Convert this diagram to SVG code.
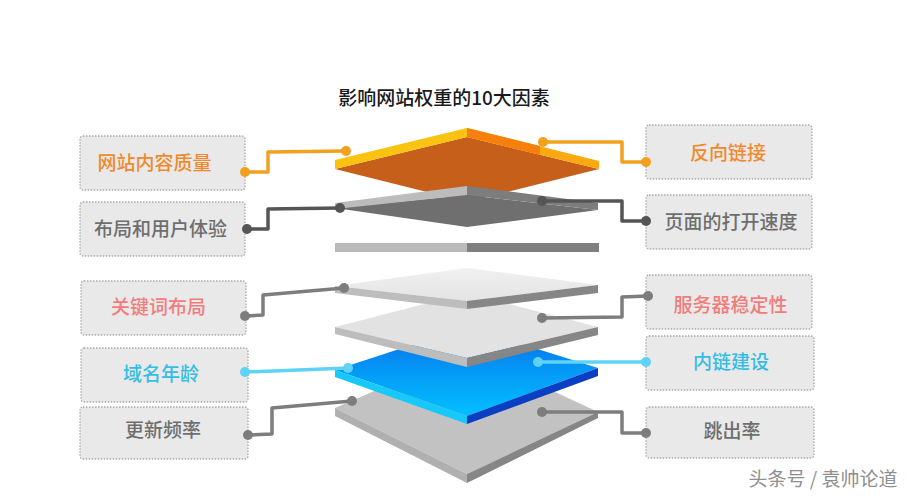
<svg xmlns="http://www.w3.org/2000/svg" width="909" height="497" viewBox="0 0 909 497">
<defs>
<linearGradient id="blue" x1="0" y1="0" x2="0" y2="1"><stop offset="0" stop-color="#0468e8"/><stop offset="0.45" stop-color="#0595f5"/><stop offset="1" stop-color="#02c0ff"/></linearGradient>
<linearGradient id="light" x1="0" y1="0" x2="0" y2="1"><stop offset="0" stop-color="#f0f0f0"/><stop offset="1" stop-color="#e4e4e4"/></linearGradient>
</defs>
<style>
text{font-family:"Noto Sans CJK SC","Liberation Sans",sans-serif}
.box{fill:#e9e9e9;stroke:#a9a9a9;stroke-width:1.3;stroke-dasharray:1.5 1.5}
.lbl{font-size:19px;font-weight:500;text-anchor:middle}
.c{fill:none;stroke-width:3.5;stroke-linejoin:round}
</style>
<rect width="909" height="497" fill="#fff"/>
<text x="444" y="105" font-size="19" font-weight="500" text-anchor="middle" fill="#1a1a1a">影响网站权重的10大因素</text>
<g id="layer-bottom">
<polygon points="335,408 467,351 598,412 467,474" fill="#c2c2c2"/>
<polygon points="335,408 467,474 467,483 335,416" fill="#b0b0b0"/>
<polygon points="598,412 467,474 467,483 598,418" fill="#868686"/>
</g>
<g id="layer-blue">
<polygon points="335,370 467,327 598,368 467,416" fill="url(#blue)"/>
<polygon points="335,370 467,416 467,424 335,377" fill="#17c8fb"/>
<polygon points="598,368 467,416 467,424 598,376" fill="#0a3fc4"/>
</g>
<g id="layer-5">
<polygon points="335,327 467,293 598,327 467,358" fill="#e2e2e2"/>
<polygon points="335,327 467,358 467,367 335,334" fill="#bdbdbd"/>
<polygon points="598,327 467,358 467,367 598,335" fill="#868686"/>
</g>
<g id="layer-4">
<polygon points="335,286 467,268 598,285 467,301" fill="url(#light)"/>
<polygon points="335,286 467,301 467,309 335,293" fill="#bdbdbd"/>
<polygon points="598,285 467,301 467,309 598,293" fill="#868686"/>
</g>
<g id="layer-bar">
<rect x="335" y="243" width="132" height="9" fill="#bababa"/>
<rect x="467" y="243" width="132" height="9" fill="#7f7f7f"/>
</g>
<g id="layer-top">
<polygon points="335,169 467,137 599,169 467,202" fill="#c55f1a"/>
<polygon points="335,160 467,128 467,137 335,169" fill="#fac311"/>
<polygon points="467,128 599,161 599,169 467,137" fill="#fba910"/>
<polygon points="467,128 540,146 540,155 467,137" fill="#f77f0c"/>
</g>
<g id="layer-2">
<polygon points="335,208 467,195 598,210 467,227" fill="#6f6f6f"/>
<polygon points="335,203 467,186 467,195 335,209" fill="#bcbcbc"/>
<polygon points="467,186 598,203 598,210 467,195" fill="#7d7d7d"/>
</g>
<g id="node-content"><rect class="box" x="80" y="136" width="165" height="54" rx="3"/><text class="lbl" x="154.5" y="170" fill="#f08a2c">网站内容质量</text></g>
<g id="node-layout"><rect class="box" x="80" y="202" width="165" height="54" rx="3"/><text class="lbl" x="160.5" y="236" fill="#6e6e6e">布局和用户体验</text></g>
<g id="node-keyword"><rect class="box" x="81" y="281" width="165" height="54" rx="3"/><text class="lbl" x="158.5" y="314" fill="#f27c7c">关键词布局</text></g>
<g id="node-domain"><rect class="box" x="81" y="348" width="167" height="54" rx="3"/><text class="lbl" x="161" y="381" fill="#35bde6">域名年龄</text></g>
<g id="node-update"><rect class="box" x="80" y="407" width="168" height="52" rx="3"/><text class="lbl" x="163" y="437" fill="#6e6e6e">更新频率</text></g>
<g id="node-backlink"><rect class="box" x="646" y="125" width="166" height="54" rx="3"/><text class="lbl" x="728" y="160" fill="#f08a2c">反向链接</text></g>
<g id="node-speed"><rect class="box" x="646" y="195" width="166" height="54" rx="3"/><text class="lbl" x="731" y="229" fill="#6e6e6e">页面的打开速度</text></g>
<g id="node-server"><rect class="box" x="646" y="275" width="166" height="54" rx="3"/><text class="lbl" x="730.5" y="312" fill="#f27c7c">服务器稳定性</text></g>
<g id="node-internal"><rect class="box" x="646" y="336" width="168" height="54" rx="3"/><text class="lbl" x="731" y="369" fill="#35bde6">内链建设</text></g>
<g id="node-bounce"><rect class="box" x="646" y="407" width="168" height="51" rx="3"/><text class="lbl" x="732" y="438" fill="#6e6e6e">跳出率</text></g>
<g id="connectors">
<polyline class="c" stroke="#f3a01f" points="245,172 268,172 268,152 346,151"/>
<polyline class="c" stroke="#f3a01f" points="543,142 622,142 622,162 646,162"/>
<polyline class="c" stroke="#555" points="247,229 268,229 268,209 340,208"/>
<polyline class="c" stroke="#555" points="542,201 622,201 622,221 646,221"/>
<polyline class="c" stroke="#7d7d7d" points="344,288 263,295 263,315 245,316"/>
<polyline class="c" stroke="#7d7d7d" points="542,318 622,317 622,297 648,296"/>
<polyline class="c" stroke="#5fd3f5" points="245,372 348,368"/>
<polyline class="c" stroke="#5fd3f5" points="538,362 646,362"/>
<polyline class="c" stroke="#7d7d7d" points="352,401 272,408 272,434 248,435"/>
<polyline class="c" stroke="#7d7d7d" points="542,412 622,412 622,433 646,433"/>
<g fill="#f3a01f"><circle cx="245" cy="172" r="5"/><circle cx="346" cy="151" r="5"/><circle cx="543" cy="142" r="5"/><circle cx="646" cy="162" r="5"/></g>
<g fill="#555"><circle cx="247" cy="229" r="5"/><circle cx="340" cy="208" r="5"/><circle cx="542" cy="201" r="5"/><circle cx="646" cy="221" r="5"/></g>
<g fill="#7d7d7d"><circle cx="245" cy="316" r="5"/><circle cx="344" cy="288" r="5"/><circle cx="542" cy="318" r="5"/><circle cx="648" cy="296" r="5"/><circle cx="248" cy="435" r="5"/><circle cx="352" cy="401" r="5"/><circle cx="542" cy="412" r="5"/><circle cx="646" cy="433" r="5"/></g>
<g fill="#5fd3f5"><circle cx="245" cy="372" r="5"/><circle cx="348" cy="368" r="5"/><circle cx="538" cy="362" r="5"/><circle cx="646" cy="362" r="5"/></g>
</g>
<text x="823" y="486" font-size="19" text-anchor="middle" fill="#8f8f8f">头条号 / 袁帅论道</text>
</svg>
